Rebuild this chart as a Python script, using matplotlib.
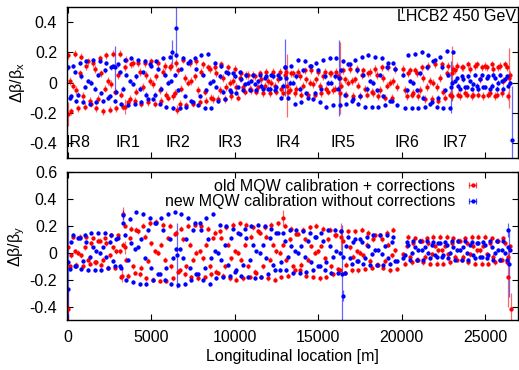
import numpy as np
import matplotlib
matplotlib.use("Agg")
import matplotlib.pyplot as plt
from matplotlib.lines import Line2D
from matplotlib.legend_handler import HandlerLine2D, HandlerTuple

plt.rcParams['font.family'] = ['Liberation Sans', 'DejaVu Sans']
plt.rcParams['mathtext.default'] = 'regular'

# BPM positions [m]
s_bpm = [
    0, 100, 200, 300, 400, 500, 600, 700,
    800, 900, 1000, 1100, 1200, 1300, 1400, 1500,
    1600, 1700, 1800, 1900, 2000, 2100, 2200, 2300,
    2400, 2500, 2600, 2700, 2800, 2900, 3000, 3100,
    3200, 3300, 3400, 3500, 3600, 3700, 3800, 3900,
    4000, 4100, 4200, 4300, 4400, 4500, 4600, 4700,
    4800, 4900, 5000, 5100, 5200, 5300, 5400, 5500,
    5600, 5700, 5800, 5900, 6000, 6100, 6200, 6300,
    6400, 6500, 6600, 6700, 6800, 6900, 7000, 7100,
    7200, 7300, 7400, 7500, 7600, 7700, 7800, 7900,
    8000, 8100, 8200, 8300, 8400, 8500, 8600, 8700,
    8800, 8900, 9000, 9100, 9200, 9300, 9400, 9500,
    9600, 9700, 9800, 9900, 10000, 10100, 10200, 10300,
    10400, 10500, 10600, 10700, 10800, 10900, 11000, 11100,
    11200, 11300, 11400, 11500, 11600, 11700, 11800, 11900,
    12000, 12100, 12200, 12300, 12400, 12500, 12600, 12700,
    12800, 12900, 13000, 13100, 13200, 13300, 13400, 13500,
    13600, 13700, 13800, 13900, 14000, 14100, 14200, 14300,
    14400, 14500, 14600, 14700, 14800, 14900, 15000, 15100,
    15200, 15300, 15400, 15500, 15600, 15700, 15800, 15900,
    16000, 16100, 16200, 16300, 16400, 16500, 16600, 16700,
    16800, 16900, 17000, 17100, 17200, 17300, 17400, 17500,
    17600, 17700, 17800, 17900, 18000, 18100, 18200, 18300,
    18400, 18500, 18600, 18700, 18800, 18900, 19000, 19100,
    19200, 19300, 19400, 19500, 19600, 19700,
    20100, 20200, 20300, 20400, 20500, 20600, 20700, 20800,
    20900, 21000, 21100, 21200, 21300, 21400, 21500, 21600,
    21700, 21800, 21900, 22000, 22100, 22200, 22300, 22400,
    22500, 22600, 22700, 22800, 22900, 23000, 23100, 23200,
    23300, 23400, 23500, 23600, 23700, 23800, 23900, 24000,
    24100, 24200, 24300, 24400, 24500, 24600, 24700, 24800,
    24900, 25000, 25100, 25200, 25300, 25400, 25500, 25600,
    25700, 25800, 25900, 26000, 26100, 26200, 26300, 26400,
    26500,
]

# horizontal beta-beating, old MQW calibration + corrections
old_x = [
    0.18, 0.01, -0.19, -0.02, 0.19, -0.05, -0.17, 0.06,
    0.17, -0.09, -0.16, 0.11, 0.14, -0.12, -0.14, 0.13,
    0.09, -0.17, -0.11, 0.16, 0.06, -0.19, -0.04, 0.18,
    0.01, -0.18, -0.01, 0.19, -0.06, -0.17, 0.05, 0.19,
    -0.08, -0.16, 0.1, 0.15, -0.13, -0.11, 0.12, 0.13,
    -0.12, -0.06, 0.13, 0.07, -0.14, -0.03, 0.13, 0.05,
    -0.13, 0.01, 0.14, -0.01, -0.14, 0.04, 0.13, -0.05,
    -0.12, 0.07, 0.11, -0.08, -0.1, 0.1, 0.11, -0.09,
    -0.07, 0.13, 0.08, -0.14, -0.04, 0.15, 0.03, -0.15,
    0.0, 0.13, 0.01, -0.14, 0.04, 0.14, -0.05, -0.13,
    0.07, 0.12, -0.06, -0.12, 0.1, 0.09, -0.1, -0.11,
    0.1, 0.06, -0.11, -0.05, 0.12, 0.03, -0.11, -0.03,
    0.1, 0.0, -0.09, 0.01, 0.09, -0.03, -0.1, 0.03,
    0.06, -0.03, -0.06, 0.05, 0.05, -0.04, -0.05, 0.05,
    0.04, -0.06, -0.03, 0.06, 0.02, -0.07, -0.02, 0.07,
    0.01, -0.07, 0.0, 0.07, -0.02, -0.06, 0.02, 0.07,
    -0.04, -0.07, 0.05, 0.07, -0.06, -0.05, 0.06, 0.06,
    -0.07, -0.04, 0.07, 0.04, -0.08, -0.02, 0.08, 0.02,
    -0.08, 0.0, 0.08, -0.01, -0.08, 0.02, 0.07, -0.02,
    -0.07, 0.04, 0.07, -0.04, -0.06, 0.06, 0.06, -0.05,
    -0.04, 0.07, 0.04, -0.07, -0.02, 0.08, 0.02, -0.08,
    0.0, 0.09, 0.01, -0.09, 0.02, 0.09, -0.02, -0.09,
    0.05, 0.08, -0.04, -0.08, 0.06, 0.07, -0.06, -0.07,
    0.09, 0.05, -0.09, -0.05, 0.1, 0.03, -0.1, -0.02,
    0.1, 0.0, -0.1, 0.01, 0.09, -0.03,
    0.09, -0.05, -0.09, 0.06, 0.08, -0.08, -0.07, 0.08,
    0.06, -0.09, -0.05, 0.1, 0.03, -0.11, -0.03, 0.11,
    0.01, -0.11, 0.0, 0.12, -0.03, -0.12, 0.03, 0.12,
    -0.06, -0.1, 0.06, 0.11, -0.08, -0.09, 0.09, 0.08,
    0.11, -0.08, -0.09, 0.1, 0.1, -0.07, -0.08, 0.12,
    0.09, -0.09, -0.08, 0.11, 0.12, -0.08, 0.02, 0.1,
    -0.09, 0.11, 0.1, -0.08, -0.07, 0.12, 0.09, -0.09,
    -0.08, 0.1, 0.11, -0.07, 0.01, 0.12, 0.1, -0.09,
    0.05,
]

# horizontal beta-beating, new MQW calibration without corrections
new_x = [
    0.1, -0.1, -0.09, 0.11, 0.07, -0.12, -0.08, 0.13,
    0.04, -0.13, -0.03, 0.14, 0.01, -0.14, 0.0, 0.15,
    -0.04, -0.13, 0.05, 0.14, -0.07, -0.12, 0.08, 0.13,
    -0.1, -0.09, 0.1, 0.11, -0.12, -0.06, 0.12, 0.07,
    -0.14, -0.04, 0.15, 0.05, -0.15, 0.01, 0.16, -0.01,
    -0.14, 0.04, 0.15, -0.04, -0.13, 0.07, 0.14, -0.08,
    -0.11, 0.12, 0.11, -0.11, -0.08, 0.14, 0.09, -0.14,
    -0.04, 0.16, 0.05, -0.16, 0.0, 0.17, 0.01, -0.17,
    0.05, 0.18, -0.05, -0.17, 0.09, 0.16, -0.09, -0.16,
    0.13, 0.14, -0.12, -0.13, 0.16, 0.09, -0.15, -0.09,
    0.18, 0.05, -0.17, -0.05, 0.19, 0.0, -0.17, 0.01,
    0.13, -0.03, -0.12, 0.04, 0.11, -0.06, -0.11, 0.07,
    0.06, -0.05, -0.06, 0.06, 0.04, -0.07, -0.03, 0.07,
    0.02, -0.05, -0.01, 0.05, 0.0, -0.05, 0.01, 0.05,
    -0.01, -0.05, 0.01, 0.05, -0.02, -0.04, 0.03, 0.04,
    -0.04, -0.04, 0.05, 0.04, -0.05, -0.03, 0.05, 0.03,
    -0.1, -0.02, 0.1, 0.03, -0.1, 0.0, 0.11, 0.0,
    -0.14, 0.04, 0.15, -0.04, -0.13, 0.08, 0.14, -0.07,
    -0.1, 0.11, 0.11, -0.11, -0.07, 0.13, 0.08, -0.13,
    -0.04, 0.15, 0.04, -0.16, 0.0, 0.16, 0.0, -0.15,
    0.04, 0.16, -0.04, -0.15, 0.08, 0.14, -0.08, -0.14,
    0.12, 0.12, -0.12, -0.11, 0.15, 0.08, -0.14, -0.09,
    0.17, 0.05, -0.16, -0.04, 0.18, 0.01, -0.16, 0.0,
    0.17, -0.05, -0.16, 0.05, 0.16, -0.09, -0.15, 0.1,
    0.13, -0.12, -0.12, 0.13, 0.09, -0.15,
    0.05, -0.17, -0.05, 0.18, 0.01, -0.17, 0.0, 0.19,
    -0.05, -0.17, 0.06, 0.2, -0.1, -0.16, 0.1, 0.18,
    -0.14, -0.13, 0.14, 0.15, -0.16, -0.1, 0.17, 0.1,
    -0.17, -0.05, 0.21, 0.05, -0.17, 0.0, 0.2, 0.01,
    0.03, -0.02, -0.04, 0.04, 0.02, -0.03, -0.03, 0.04,
    0.01, -0.04, -0.01, 0.05, -0.02, -0.04, 0.02, 0.05,
    -0.03, -0.03, 0.03, 0.04, -0.04, -0.02, 0.05, 0.03,
    -0.04, 0.0, 0.05, 0.01, -0.04, 0.02, 0.04, -0.02,
    0.0,
]

# vertical beta-beating, old MQW calibration + corrections
old_y = [
    0.04, -0.1, -0.02, 0.12, 0.01, -0.09, 0.0, 0.12,
    -0.02, -0.1, 0.04, 0.12, -0.05, -0.08, 0.07, 0.11,
    -0.07, -0.07, 0.09, 0.09, -0.09, -0.05, 0.11, 0.07,
    -0.11, -0.02, 0.13, 0.04, -0.11, 0.01, 0.13, 0.01,
    -0.18, 0.06, 0.2, -0.05, -0.17, 0.11, 0.18, -0.1,
    -0.15, 0.17, 0.16, -0.16, -0.11, 0.2, 0.12, -0.19,
    -0.06, 0.22, 0.07, -0.2, 0.01, 0.23, 0.0, -0.21,
    0.06, 0.21, -0.05, -0.21, 0.11, 0.2, -0.1, -0.19,
    0.14, 0.15, -0.14, -0.13, 0.18, 0.1, -0.16, -0.1,
    0.2, 0.06, -0.18, -0.05, 0.21, 0.0, -0.19, 0.01,
    0.2, -0.04, -0.18, 0.06, 0.18, -0.1, -0.16, 0.11,
    0.15, -0.14, -0.15, 0.16, 0.11, -0.17, -0.1, 0.19,
    0.06, -0.19, -0.04, 0.21, 0.01, -0.2, 0.0, 0.22,
    -0.05, -0.19, 0.06, 0.21, -0.1, -0.18, 0.12, 0.19,
    -0.14, -0.15, 0.16, 0.15, -0.18, -0.1, 0.19, 0.12,
    -0.19, -0.05, 0.21, 0.06, -0.2, 0.01, 0.22, 0.0,
    -0.18, 0.06, 0.2, -0.05, -0.17, 0.1, 0.18, -0.1,
    -0.13, 0.14, 0.14, -0.13, -0.09, 0.17, 0.1, -0.17,
    -0.05, 0.19, 0.05, -0.18, 0.0, 0.2, 0.01, -0.19,
    0.05, 0.18, -0.04, -0.18, 0.1, 0.17, -0.1, -0.16,
    0.13, 0.13, -0.12, -0.13, 0.16, 0.09, -0.15, -0.09,
    0.16, 0.04, -0.13, -0.03, 0.16, 0.01, -0.13, 0.0,
    0.17, -0.02, -0.12, 0.06, 0.15, -0.06, -0.11, 0.1,
    0.13, -0.09, -0.09, 0.13, 0.1, -0.11, -0.06, 0.15,
    0.06, -0.13, -0.02, 0.17, 0.02, -0.12,
    -0.01, -0.08, 0.05, 0.12, -0.03, -0.07, 0.07, 0.11,
    -0.05, -0.05, 0.09, 0.09, -0.07, -0.03, 0.11, 0.07,
    -0.08, -0.01, 0.12, 0.05, -0.08, 0.02, 0.12, 0.02,
    -0.08, 0.05, 0.12, -0.01, -0.07, 0.07, 0.11, -0.03,
    -0.05, 0.09, 0.09, -0.05, -0.03, 0.11, 0.07, -0.07,
    -0.01, 0.12, 0.05, -0.08, 0.02, 0.12, 0.02, -0.08,
    0.05, 0.12, -0.01, -0.08, 0.07, 0.11, -0.03, -0.07,
    0.09, 0.09, -0.05, -0.05, 0.11, 0.07, -0.07, -0.03,
    0.05,
]

# vertical beta-beating, new MQW calibration without corrections
new_y = [
    -0.07, -0.12, 0.08, 0.13, -0.1, -0.1, 0.11, 0.11,
    -0.12, -0.06, 0.13, 0.08, -0.13, -0.03, 0.15, 0.04,
    -0.13, 0.01, 0.15, 0.0, -0.13, 0.04, 0.15, -0.03,
    -0.11, 0.08, 0.13, -0.06, -0.1, 0.1, 0.11, -0.1,
    -0.11, 0.22, 0.13, -0.2, -0.05, 0.25, 0.07, -0.22,
    0.03, 0.3, 0.04, -0.23, 0.1, 0.29, -0.04, -0.23,
    0.17, 0.26, -0.11, -0.2, 0.22, 0.22, -0.16, -0.16,
    0.26, 0.17, -0.2, -0.11, 0.29, 0.1, -0.23, -0.04,
    0.3, 0.03, -0.24, 0.03, 0.29, -0.04, -0.23, 0.1,
    0.26, -0.11, -0.2, 0.17, 0.22, -0.16, -0.16, 0.22,
    0.17, -0.2, -0.11, 0.26, 0.1, -0.23, -0.04, 0.29,
    0.01, -0.19, 0.0, 0.21, -0.05, -0.18, 0.06, 0.2,
    -0.09, -0.17, 0.11, 0.18, -0.14, -0.13, 0.15, 0.14,
    -0.17, -0.09, 0.18, 0.11, -0.18, -0.05, 0.2, 0.06,
    -0.19, 0.01, 0.21, 0.0, -0.18, 0.06, 0.2, -0.04,
    -0.16, 0.11, 0.18, -0.09, -0.13, 0.15, 0.15, -0.13,
    -0.07, 0.15, 0.09, -0.13, -0.03, 0.17, 0.05, -0.15,
    0.01, 0.17, 0.0, -0.15, 0.05, 0.16, -0.03, -0.14,
    0.09, 0.15, -0.07, -0.13, 0.12, 0.12, -0.1, -0.1,
    0.15, 0.09, -0.13, -0.07, 0.17, 0.05, -0.15, -0.03,
    0.17, 0.01, -0.15, 0.0, 0.16, -0.03, -0.15, 0.05,
    0.12, -0.04, -0.08, 0.08, 0.1, -0.06, -0.06, 0.1,
    0.08, -0.08, -0.04, 0.12, 0.05, -0.09, -0.01, 0.13,
    0.02, -0.09, 0.02, 0.13, -0.01, -0.09, 0.05, 0.13,
    -0.04, -0.08, 0.08, 0.12, -0.06, -0.06,
    -0.04, -0.02, 0.08, 0.06, -0.05, 0.0, 0.09, 0.04,
    -0.05, 0.02, 0.09, 0.02, -0.05, 0.04, 0.09, 0.0,
    -0.04, 0.06, 0.08, -0.02, -0.03, 0.07, 0.07, -0.03,
    -0.02, 0.08, 0.06, -0.04, 0.0, 0.09, 0.04, -0.05,
    0.02, 0.09, 0.02, -0.05, 0.04, 0.09, 0.0, -0.05,
    0.06, 0.08, -0.02, -0.04, 0.07, 0.07, -0.03, -0.03,
    0.08, 0.06, -0.04, -0.02, 0.09, 0.04, -0.05, 0.0,
    0.09, 0.02, -0.05, 0.02, 0.09, 0.0, -0.05, 0.04,
    0.02,
]

# typical measurement errors
err_old_x = 0.024
err_new_x = 0.014
err_old_y = 0.018
err_new_y = 0.014

# BPMs with large errors (s, value, error)
old_x_bad_s = [0, 3400, 6550, 13150, 16300, 23050, 26420]
old_x_bad_v = [-0.21, -0.16, -0.18, -0.02, 0.03, 0.06, 0.03]
old_x_bad_e = [0.08, 0.05, 0.03, 0.21, 0.24, 0.18, 0.2]

new_x_bad_s = [2800, 6250, 6480, 13000, 16250, 22980, 26620]
new_x_bad_v = [0.1, 0.2, 0.36, 0.1, 0.03, -0.03, -0.38]
new_x_bad_e = [0.14, 0.08, 0.2, 0.19, 0.25, 0.17, 0.36]

old_y_bad_s = [0, 3250, 3300, 3450, 12900, 16380, 26400, 26550]
old_y_bad_v = [-0.42, -0.17, 0.29, 0.04, 0.26, 0.12, -0.18, -0.42]
old_y_bad_e = [0.15, 0.05, 0.05, 0.05, 0.06, 0.1, 0.22, 0.12]

new_y_bad_s = [0, 3300, 6550, 16450, 16520, 26380, 26420]
new_y_bad_v = [-0.27, 0.28, -0.02, -0.16, -0.32, 0.17, -0.08]
new_y_bad_e = [0.48, 0.04, 0.24, 0.37, 0.04, 0.05, 0.25]

ir_names = ['IR8', 'IR1', 'IR2', 'IR3', 'IR4', 'IR5', 'IR6', 'IR7']
ir_pos = [620, 3600, 6600, 9700, 13200, 16500, 20350, 23230]

RED = '#ff0000'
BLUE = '#0000ff'
FS = 11.5
MS = 3.1


def draw(ax, s, v, e, color):
    m, caps, bars = ax.errorbar(s, v, yerr=e, fmt='o', ms=MS, mew=0, color=color,
                                ecolor=color, elinewidth=0.9, capsize=1.8, capthick=0.9)
    for c in caps:
        c.set_alpha(0.6)
    for b in bars:
        b.set_alpha(0.6)


def style(ax):
    ax.tick_params(direction='in', top=True, right=True, length=4, width=0.8,
                   labelsize=FS, pad=7)
    for sp in ax.spines.values():
        sp.set_linewidth(1.0)
    ax.set_xlim(-60, 26980)
    ax.set_xticks([0, 5000, 10000, 15000, 20000, 25000])


fig = plt.figure(figsize=(5.19, 3.70), dpi=100)
ax1 = fig.add_axes([0.129, 0.573, 0.869, 0.408])
ax2 = fig.add_axes([0.129, 0.135, 0.869, 0.4])

# top panel: horizontal
draw(ax1, s_bpm, old_x, err_old_x, RED)
draw(ax1, old_x_bad_s, old_x_bad_v, old_x_bad_e, RED)
draw(ax1, s_bpm, new_x, err_new_x, BLUE)
draw(ax1, new_x_bad_s, new_x_bad_v, new_x_bad_e, BLUE)
style(ax1)
ax1.set_ylim(-0.5, 0.5)
ax1.set_yticks([-0.4, -0.2, 0, 0.2, 0.4])
ax1.set_yticklabels(['-0.4', '-0.2', '0', '0.2', '0.4'])
ax1.set_xticklabels([])
ax1.set_ylabel(r'Δβ/β$_x$', fontsize=FS, labelpad=2)
ax1.text(0.995, 0.985, 'LHCB2 450 GeV', transform=ax1.transAxes, ha='right', va='top',
         fontsize=FS)
for name, p in zip(ir_names, ir_pos):
    ax1.text(p, -0.4, name, ha='center', va='center', fontsize=FS)

# bottom panel: vertical
draw(ax2, s_bpm, old_y, err_old_y, RED)
draw(ax2, old_y_bad_s, old_y_bad_v, old_y_bad_e, RED)
draw(ax2, s_bpm, new_y, err_new_y, BLUE)
draw(ax2, new_y_bad_s, new_y_bad_v, new_y_bad_e, BLUE)
style(ax2)
ax2.set_ylim(-0.5, 0.6)
ax2.set_yticks([-0.4, -0.2, 0, 0.2, 0.4, 0.6])
ax2.set_yticklabels(['-0.4', '-0.2', '0', '0.2', '0.4', '0.6'])
ax2.set_ylabel(r'Δβ/β$_y$', fontsize=FS, labelpad=2)
ax2.set_xlabel('Longitudinal location [m]', fontsize=FS, labelpad=3)

# gnuplot-style key samples: horizontal bar with end ticks plus a point
handles = []
hmap = {}
for color in (RED, BLUE):
    bar = Line2D([], [], color=color, lw=0.9, alpha=0.7, marker='|', ms=4, mew=0.9)
    dot = Line2D([], [], color=color, ls='none', marker='o', ms=MS, mew=0)
    hmap[bar] = HandlerLine2D(numpoints=2)
    hmap[dot] = HandlerLine2D(numpoints=1)
    handles.append((bar, dot))
hmap[tuple] = HandlerTuple(ndivide=1, pad=0)
ax2.legend(handles,
           ['old MQW calibration + corrections', 'new MQW calibration without corrections'],
           handler_map=hmap, loc='upper right', bbox_to_anchor=(0.935, 1.01), frameon=False,
           markerfirst=False, fontsize=FS, handlelength=1.0, handletextpad=0.6,
           borderpad=0, labelspacing=0.05)

fig.savefig('out.png', dpi=100)
